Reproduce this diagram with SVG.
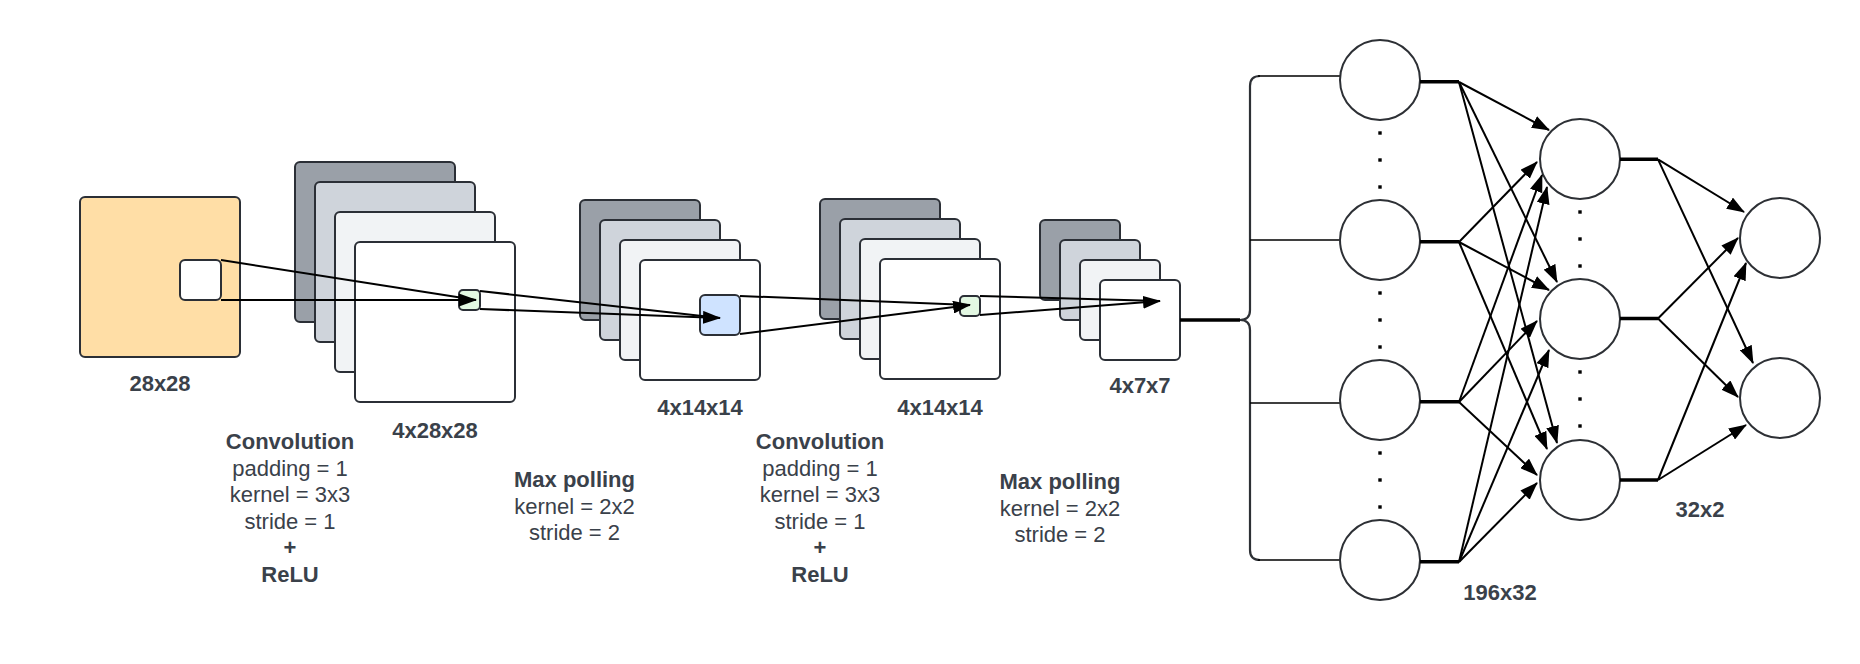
<svg xmlns="http://www.w3.org/2000/svg" width="1860" height="664" viewBox="0 0 1860 664">
<defs>
<style>
.bx{stroke:#2b2f36;stroke-width:2}
.g1{fill:#9aa0a8}.g2{fill:#cfd4db}.g3{fill:#f1f3f5}.g4{fill:#ffffff}
.nd{fill:#fff;stroke:#2d3035;stroke-width:2}
.ln{stroke:#000;stroke-width:2;fill:none}
.ar{stroke:#000;stroke-width:2;fill:none;marker-end:url(#ah)}
.th{stroke:#000;stroke-width:3.5;fill:none}
.dot{fill:#000}
text{font-family:"Liberation Sans",Arial,sans-serif;font-size:22px;fill:#3a414a;text-anchor:middle}
.b{font-weight:bold}
</style>
<marker id="ah" markerUnits="userSpaceOnUse" markerWidth="18" markerHeight="13" refX="17" refY="6.5" orient="auto">
<path d="M0,0 L18,6.5 L0,13 z" fill="#000"/>
</marker>
</defs>
<rect width="1860" height="664" fill="#fff"/>

<g id="input">
<rect x="80" y="197" width="160" height="160" rx="5" fill="#ffdea6" class="bx"/>
<rect x="180" y="260" width="41" height="40" rx="5" fill="#fff" class="bx"/>
<text x="160" y="390.5" class="b">28x28</text>
</g>

<g id="conv1">
<rect x="295" y="162" width="160" height="160" rx="5" class="bx g1"/>
<rect x="315" y="182" width="160" height="160" rx="5" class="bx g2"/>
<rect x="335" y="212" width="160" height="160" rx="5" class="bx g3"/>
<rect x="355" y="242" width="160" height="160" rx="5" class="bx g4"/>
<rect x="459" y="290" width="21" height="20" rx="4" fill="#e3f8e3" class="bx"/>
<text x="435" y="437.5" class="b">4x28x28</text>
</g>

<g id="pool1">
<rect x="580" y="200" width="120" height="120" rx="5" class="bx g1"/>
<rect x="600" y="220" width="120" height="120" rx="5" class="bx g2"/>
<rect x="620" y="240" width="120" height="120" rx="5" class="bx g3"/>
<rect x="640" y="260" width="120" height="120" rx="5" class="bx g4"/>
<rect x="700" y="295" width="40" height="40" rx="5" fill="#cfe3ff" class="bx"/>
<text x="700" y="415" class="b">4x14x14</text>
</g>

<g id="conv2">
<rect x="820" y="199" width="120" height="120" rx="5" class="bx g1"/>
<rect x="840" y="219" width="120" height="120" rx="5" class="bx g2"/>
<rect x="860" y="239" width="120" height="120" rx="5" class="bx g3"/>
<rect x="880" y="259" width="120" height="120" rx="5" class="bx g4"/>
<rect x="960" y="296" width="20" height="20" rx="4" fill="#e3f8e3" class="bx"/>
<text x="940" y="415" class="b">4x14x14</text>
</g>

<g id="pool2">
<rect x="1040" y="220" width="80" height="80" rx="5" class="bx g1"/>
<rect x="1060" y="240" width="80" height="80" rx="5" class="bx g2"/>
<rect x="1080" y="260" width="80" height="80" rx="5" class="bx g3"/>
<rect x="1100" y="280" width="80" height="80" rx="5" class="bx g4"/>
<text x="1140" y="393.3" class="b">4x7x7</text>
</g>

<g id="conv1-text">
<text x="290" y="449" class="b">Convolution</text>
<text x="290" y="475.6">padding = 1</text>
<text x="290" y="502.2">kernel = 3x3</text>
<text x="290" y="528.8">stride = 1</text>
<text x="290" y="555.4" class="b">+</text>
<text x="290" y="582" class="b">ReLU</text>
</g>
<g id="pool1-text">
<text x="574.5" y="487" class="b">Max polling</text>
<text x="574.5" y="513.6">kernel = 2x2</text>
<text x="574.5" y="540.2">stride = 2</text>
</g>
<g id="conv2-text">
<text x="820" y="449" class="b">Convolution</text>
<text x="820" y="475.6">padding = 1</text>
<text x="820" y="502.2">kernel = 3x3</text>
<text x="820" y="528.8">stride = 1</text>
<text x="820" y="555.4" class="b">+</text>
<text x="820" y="582" class="b">ReLU</text>
</g>
<g id="pool2-text">
<text x="1060" y="489" class="b">Max polling</text>
<text x="1060" y="515.6">kernel = 2x2</text>
<text x="1060" y="542.2">stride = 2</text>
</g>

<g id="brace">
<path d="M1260,76 Q1250,76 1250,86 L1250,310 Q1250,320 1240,320 Q1250,320 1250,330 L1250,550 Q1250,560 1260,560" fill="none" stroke="#2d3035" stroke-width="2.2"/>
<path d="M1258,76 H1340 M1250,240 H1340 M1250,403 H1340 M1258,560 H1340" fill="none" stroke="#000" stroke-width="1.3"/>
</g>

<g id="layer1">
<g id="n1-1"><circle cx="1380" cy="80" r="40" class="nd"/></g>
<g id="n1-2"><circle cx="1380" cy="240" r="40" class="nd"/></g>
<g id="n1-3"><circle cx="1380" cy="400" r="40" class="nd"/></g>
<g id="n1-4"><circle cx="1380" cy="560" r="40" class="nd"/></g>
<g class="dot">
<rect x="1378.3" y="131.3" width="3.4" height="3.4"/><rect x="1378.3" y="158.3" width="3.4" height="3.4"/><rect x="1378.3" y="185.3" width="3.4" height="3.4"/>
<rect x="1378.3" y="291.3" width="3.4" height="3.4"/><rect x="1378.3" y="318.3" width="3.4" height="3.4"/><rect x="1378.3" y="345.3" width="3.4" height="3.4"/>
<rect x="1378.3" y="451.3" width="3.4" height="3.4"/><rect x="1378.3" y="478.3" width="3.4" height="3.4"/><rect x="1378.3" y="505.3" width="3.4" height="3.4"/>
</g>
<text x="1500" y="599.5" class="b">196x32</text>
</g>

<g id="layer2">
<g id="n2-1"><circle cx="1580" cy="159" r="40" class="nd"/></g>
<g id="n2-2"><circle cx="1580" cy="319" r="40" class="nd"/></g>
<g id="n2-3"><circle cx="1580" cy="480" r="40" class="nd"/></g>
<g class="dot">
<rect x="1578.3" y="210.3" width="3.4" height="3.4"/><rect x="1578.3" y="237.3" width="3.4" height="3.4"/><rect x="1578.3" y="264.3" width="3.4" height="3.4"/>
<rect x="1578.3" y="370.3" width="3.4" height="3.4"/><rect x="1578.3" y="397.3" width="3.4" height="3.4"/><rect x="1578.3" y="424.3" width="3.4" height="3.4"/>
</g>
<text x="1700" y="516.7" class="b">32x2</text>
</g>

<g id="layer3">
<g id="n3-1"><circle cx="1780" cy="238" r="40" class="nd"/></g>
<g id="n3-2"><circle cx="1780" cy="398" r="40" class="nd"/></g>
</g>

<g id="connectors">
<path class="ln" d="M221,260 L476,300"/>
<path class="ar" d="M221,300 L476,300"/>
<path class="ln" d="M480,291 L720,318"/>
<path class="ar" d="M480,309 L720,318"/>
<path class="ln" d="M740,296 L970,305"/>
<path class="ar" d="M740,334 L970,305"/>
<path class="ln" d="M980,296 L1160,301"/>
<path class="ar" d="M980,315 L1160,301"/>
<path class="th" d="M1180,320 H1240"/>

<path class="th" d="M1420,81.7 H1459 M1420,241.7 H1459 M1420,401.7 H1459 M1420,561.7 H1459"/>
<path class="ar" d="M1459,82 L1549,130"/>
<path class="ar" d="M1459,82 L1557,282"/>
<path class="ar" d="M1459,82 L1557,443"/>
<path class="ar" d="M1459,242 L1537,162"/>
<path class="ar" d="M1459,242 L1549,290"/>
<path class="ar" d="M1459,242 L1547,449"/>
<path class="ar" d="M1459,402 L1542,175"/>
<path class="ar" d="M1459,402 L1537,321"/>
<path class="ar" d="M1459,402 L1537,475"/>
<path class="ar" d="M1459,562 L1547,187"/>
<path class="ar" d="M1459,562 L1549,350"/>
<path class="ar" d="M1459,562 L1537,483"/>

<path class="th" d="M1620,159.3 H1658 M1620,318.5 H1658 M1620,480 H1658"/>
<path class="ar" d="M1658,159.3 L1744,212"/>
<path class="ar" d="M1658,159.3 L1753,363"/>
<path class="ar" d="M1658,318.5 L1738,238"/>
<path class="ar" d="M1658,318.5 L1738,397"/>
<path class="ar" d="M1658,480 L1746,263"/>
<path class="ar" d="M1658,480 L1746,425"/>
</g>
</svg>
